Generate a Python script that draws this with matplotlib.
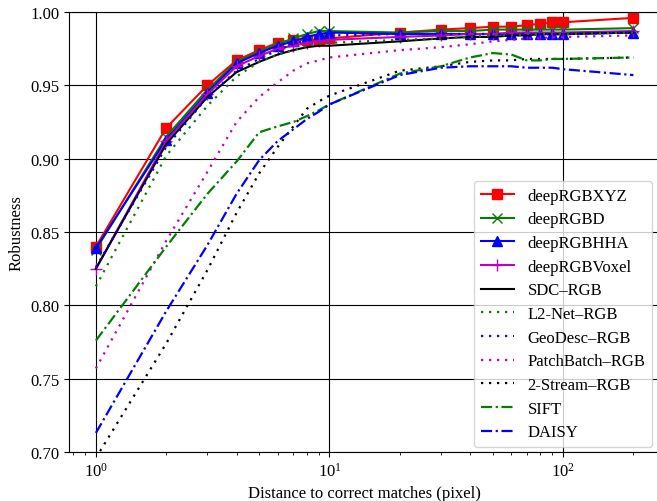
import matplotlib
matplotlib.use('Agg')
import matplotlib.pyplot as plt
from matplotlib.ticker import FormatStrFormatter

plt.rcParams['font.family'] = ['Liberation Serif', 'DejaVu Serif']
plt.rcParams['mathtext.fontset'] = 'stix'
plt.rcParams['font.size'] = 12

# distance thresholds (pixel)
dist = [1, 2, 3, 4, 5, 6, 7, 8, 9, 10, 20, 30, 40, 50, 60, 70, 80, 90, 100, 200]

deep_rgbxyz = [0.840, 0.921, 0.950, 0.967, 0.974, 0.979, 0.981, 0.981, 0.981, 0.982,
               0.986, 0.988, 0.989, 0.990, 0.990, 0.991, 0.992, 0.993, 0.993, 0.996]
deep_rgbd = [0.838, 0.915, 0.947, 0.966, 0.973, 0.978, 0.982, 0.985, 0.987, 0.987,
             0.986, 0.987, 0.987, 0.988, 0.988, 0.988, 0.988, 0.988, 0.988, 0.989]
deep_rgbhha = [0.839, 0.913, 0.945, 0.965, 0.972, 0.977, 0.980, 0.983, 0.985, 0.986,
               0.985, 0.985, 0.985, 0.985, 0.985, 0.985, 0.985, 0.985, 0.985, 0.986]
deep_rgbvoxel = [0.825, 0.912, 0.944, 0.963, 0.970, 0.975, 0.977, 0.979, 0.980, 0.981,
                 0.983, 0.984, 0.985, 0.985, 0.986, 0.986, 0.986, 0.986, 0.986, 0.987]
sdc_rgb = [0.825, 0.910, 0.942, 0.959, 0.966, 0.971, 0.974, 0.976, 0.977, 0.977,
           0.980, 0.982, 0.983, 0.983, 0.984, 0.984, 0.985, 0.985, 0.985, 0.986]
l2net_rgb = [0.813, 0.902, 0.936, 0.956, 0.966, 0.971, 0.974, 0.977, 0.978, 0.979,
             0.981, 0.982, 0.983, 0.984, 0.984, 0.985, 0.985, 0.985, 0.985, 0.986]
geodesc_rgb = [0.826, 0.908, 0.942, 0.960, 0.968, 0.974, 0.978, 0.981, 0.983, 0.984,
               0.985, 0.985, 0.985, 0.985, 0.985, 0.985, 0.985, 0.985, 0.985, 0.986]
patchbatch_rgb = [0.757, 0.844, 0.891, 0.925, 0.942, 0.952, 0.960, 0.965, 0.967, 0.969,
                  0.974, 0.976, 0.978, 0.980, 0.981, 0.982, 0.982, 0.983, 0.983, 0.984]
twostream_rgb = [0.696, 0.774, 0.824, 0.863, 0.890, 0.908, 0.922, 0.934, 0.939, 0.943,
                 0.960, 0.963, 0.966, 0.967, 0.967, 0.968, 0.968, 0.968, 0.968, 0.969]
sift = [0.776, 0.840, 0.876, 0.898, 0.918, 0.922, 0.925, 0.929, 0.933, 0.937,
        0.958, 0.963, 0.969, 0.972, 0.971, 0.967, 0.967, 0.968, 0.968, 0.969]
daisy = [0.713, 0.796, 0.841, 0.876, 0.899, 0.912, 0.920, 0.927, 0.932, 0.937,
         0.957, 0.962, 0.963, 0.963, 0.963, 0.962, 0.962, 0.962, 0.961, 0.957]

dot = (0, (1, 2.6))  # sparser dots than ':'
dashdot = (0, (5, 1.6, 1, 1.6))

fig = plt.figure(figsize=(6.57, 5.02), dpi=100)
# axes runs slightly past the right edge, as in the original crop
ax = fig.add_axes([69 / 657, 1 - 453 / 502, 591 / 657, 440 / 502])

ax.plot(dist, deep_rgbxyz, 'r-s', lw=1.5, ms=7.5, label='deepRGBXYZ')
ax.plot(dist, deep_rgbd, 'g-x', lw=1.5, ms=7, label='deepRGBD')
ax.plot(dist, deep_rgbhha, 'b-^', lw=1.5, ms=7.5, label='deepRGBHHA')
ax.plot(dist, deep_rgbvoxel, 'm-+', lw=1.5, ms=8, label='deepRGBVoxel')
ax.plot(dist, sdc_rgb, 'k-', lw=1.5, label='SDC\u2013RGB')
ax.plot(dist, l2net_rgb, color='g', ls=dot, lw=1.6, label='L2-Net\u2013RGB')
ax.plot(dist, geodesc_rgb, color='b', ls=dot, lw=1.6, label='GeoDesc\u2013RGB')
ax.plot(dist, patchbatch_rgb, color='m', ls=dot, lw=1.6, label='PatchBatch\u2013RGB')
ax.plot(dist, twostream_rgb, color='k', ls=dot, lw=1.6, label='2-Stream\u2013RGB')
ax.plot(dist, sift, color='g', ls=dashdot, lw=1.6, label='SIFT')
ax.plot(dist, daisy, color='b', ls=dashdot, lw=1.6, label='DAISY')

ax.set_xscale('log')
ax.set_xlim(0.767, 260)
ax.set_ylim(0.70, 1.00)
ax.yaxis.set_major_formatter(FormatStrFormatter('%.2f'))
ax.grid(True, which='major', color='k', lw=0.8)
ax.set_xlabel('Distance to correct matches (pixel)')
ax.set_ylabel('Robustness')

ax.legend(loc='lower right', bbox_to_anchor=(652 / 657, 1 - 448 / 502),
          bbox_transform=fig.transFigure, borderaxespad=0, fontsize=12,
          handlelength=2.0, labelspacing=0.46)

fig.savefig('out.png', dpi=100)
